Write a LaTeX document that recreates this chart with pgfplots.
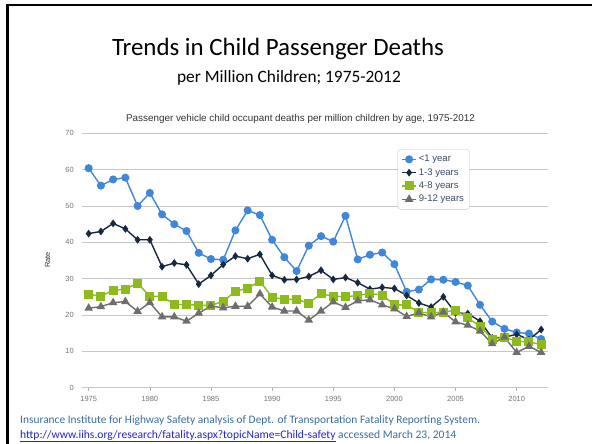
\documentclass[border=0pt]{standalone}
\usepackage{pgfplots}
\usepackage{pgfplotstable}
\pgfplotsset{compat=1.18}
\usepackage{fontspec}
\setmainfont{Liberation Sans}
\newfontfamily\calfont{Carlito}
\definecolor{cblue}{HTML}{3F87DB}
\definecolor{cnavy}{HTML}{172840}
\definecolor{cgreen}{HTML}{8DBB1E}
\definecolor{cgrey}{HTML}{6E6E6E}
\definecolor{foot}{HTML}{3B6C9E}
\definecolor{url}{HTML}{2424D0}
\definecolor{legtext}{HTML}{3C4A66}
\pgfplotstableread{
year a b c d
1975 60.4 42.4 25.7 21.9
1976 55.6 43.0 25.2 22.3
1977 57.3 45.2 26.8 23.4
1978 57.8 43.7 27.1 23.7
1979 50.0 40.7 28.8 21.0
1980 53.6 40.7 25.1 23.4
1981 47.7 33.3 25.2 19.5
1982 45.0 34.3 22.9 19.5
1983 43.1 33.8 22.9 18.3
1984 37.1 28.5 22.7 20.5
1985 35.4 30.9 22.6 22.5
1986 35.2 33.9 23.8 22.0
1987 43.3 36.2 26.5 22.4
1988 48.8 35.5 27.4 22.4
1989 47.5 36.7 29.3 25.8
1990 40.7 30.9 24.9 22.2
1991 35.9 29.7 24.3 21.1
1992 32.1 29.8 24.3 21.1
1993 39.1 30.6 23.3 18.6
1994 41.7 32.3 25.8 21.1
1995 40.2 29.8 25.2 23.6
1996 47.3 30.3 25.0 22.1
1997 35.3 28.9 25.4 23.9
1998 36.6 27.1 25.9 24.2
1999 37.2 27.6 25.5 22.8
2000 34.0 27.3 22.8 21.7
2001 26.4 25.4 22.8 19.6
2002 27.0 23.3 20.8 20.6
2003 29.8 22.2 20.6 19.5
2004 29.7 25.0 20.8 20.8
2005 29.1 20.6 21.3 18.1
2006 28.1 20.4 19.2 17.2
2007 22.8 18.3 16.9 15.6
2008 18.2 13.7 13.4 12.1
2009 16.2 13.9 13.9 13.9
2010 15.2 14.7 12.8 9.7
2011 14.9 13.2 12.6 11.4
2012 13.4 16.0 11.9 9.7
}\datatable
\begin{document}
\begin{tikzpicture}
\path[use as bounding box, fill=white] (0,0) rectangle (592bp,-444bp);
\draw[line width=2.6bp, black] (7.2bp,-444bp) -- (7.2bp,-5bp) -- (592bp,-5bp);
\node[anchor=base, inner sep=0] at (278bp,-55bp) {\calfont\fontsize{25}{30}\selectfont Trends in Child Passenger Deaths};
\node[anchor=base, inner sep=0] at (289bp,-82.7bp) {\calfont\fontsize{17.4}{21}\selectfont per Million Children; 1975-2012};
\node[anchor=base, inner sep=0, text=black!80] at (300.5bp,-121.7bp) {\fontsize{9.9}{11}\selectfont Passenger vehicle child occupant deaths per million children by age, 1975-2012};
\node[rotate=90, inner sep=0, text=black!80] at (47.7bp,-260bp) {\fontsize{7.5}{9}\selectfont Rate};
\node[anchor=base west, inner sep=0, text=foot] at (20bp,-423.3bp) {\calfont\fontsize{11.45}{13}\selectfont Insurance Institute for Highway Safety analysis of Dept. of Transportation Fatality Reporting System.};
\node[anchor=base west, inner sep=0, text=foot] at (20bp,-438.3bp) {\calfont\fontsize{11.6}{13}\selectfont \textcolor{url}{\underline{http://www.iihs.org/research/fatality.aspx?topicName=Child-safety}} accessed March 23, 2014};
\begin{axis}[
  at={(81.7bp,-387.7bp)}, anchor=south west,
  scale only axis, width=466.3bp, height=254.4bp,
  xmin=1974.43, xmax=2012.56, ymin=0, ymax=70,
  xtick={1975,1980,...,2010}, ytick={0,10,...,70},
  axis line style={draw=none},
  ymajorgrids, grid style={draw=black!22, line width=0.8bp},
  tick align=outside, xtick pos=bottom, ytick pos=left,
  major tick length=3.5bp,
  xtick style={draw=black!30, line width=0.6bp},
  ytick style={draw=none},
  /pgf/number format/1000 sep={},
  /pgf/number format/assume math mode=true,
  tick label style={font=\fontsize{7.5}{9}\selectfont, text=black!55},
  xticklabel style={yshift=-2bp},
  yticklabel style={xshift=-1bp},
  legend style={at={(0.6777,0.9383)}, anchor=north west, draw=black!22, rounded corners=3bp,
    font=\fontsize{9.6}{11}\selectfont, text=legtext, inner sep=3.5bp, row sep=0bp,
    nodes={inner sep=2bp, text height=7.2bp, text depth=2.1bp}},
  legend cell align=left,
  legend image code/.code={\draw[#1] (0bp,0bp) -- (7bp,0bp) plot coordinates {(7bp,0bp)} -- (14bp,0bp);},
  every axis plot/.append style={line width=1.4bp},
]
\addplot[color=cblue, mark=*, mark size=3.3bp] table[x=year, y=a] {\datatable};
\addlegendentry{<1 year}
\addplot[color=cnavy, mark=diamond*, mark size=2.8bp] table[x=year, y=b] {\datatable};
\addlegendentry{1-3 years}
\addplot[color=cgreen, mark=square*, mark size=3.8bp] table[x=year, y=c] {\datatable};
\addlegendentry{4-8 years}
\addplot[color=cgrey, mark=triangle*, mark size=3.6bp] table[x=year, y=d] {\datatable};
\addlegendentry{9-12 years}
\end{axis}
\end{tikzpicture}
\end{document}
